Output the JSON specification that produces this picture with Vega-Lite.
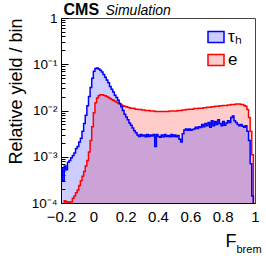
{
"$schema": "https://vega.github.io/schema/vega-lite/v6.json",
"width": 194, "height": 185,
"autosize": {"type": "none"},
"padding": {"left": 61, "top": 18, "right": 11, "bottom": 55},
"background": "white",
"config": {
  "view": {"stroke": "#444", "strokeWidth": 1},
  "font": "Liberation Sans",
  "axis": {"labelFont": "Liberation Sans", "titleFont": "Liberation Sans", "titleFontWeight": "normal", "titleColor": "black", "labelColor": "black", "grid": false}
},
"data": {"values": [
{"s":"τₕ","x":-0.20,"y":0.000562},{"s":"τₕ","x":-0.19,"y":0.000302},{"s":"τₕ","x":-0.18,"y":0.000631},{"s":"τₕ","x":-0.17,"y":0.000525},{"s":"τₕ","x":-0.16,"y":0.000759},
{"s":"τₕ","x":-0.15,"y":0.000832},{"s":"τₕ","x":-0.14,"y":0.000955},{"s":"τₕ","x":-0.13,"y":0.00107},{"s":"τₕ","x":-0.12,"y":0.00120},{"s":"τₕ","x":-0.11,"y":0.00151},
{"s":"τₕ","x":-0.10,"y":0.00166},{"s":"τₕ","x":-0.09,"y":0.00209},{"s":"τₕ","x":-0.08,"y":0.00251},{"s":"τₕ","x":-0.07,"y":0.00355},{"s":"τₕ","x":-0.06,"y":0.00525},
{"s":"τₕ","x":-0.05,"y":0.00794},{"s":"τₕ","x":-0.04,"y":0.0126},{"s":"τₕ","x":-0.03,"y":0.0200},{"s":"τₕ","x":-0.02,"y":0.0316},{"s":"τₕ","x":-0.01,"y":0.0501},
{"s":"τₕ","x":0.00,"y":0.0708},{"s":"τₕ","x":0.01,"y":0.0813},{"s":"τₕ","x":0.02,"y":0.0832},{"s":"τₕ","x":0.03,"y":0.0794},{"s":"τₕ","x":0.04,"y":0.0741},
{"s":"τₕ","x":0.05,"y":0.0676},{"s":"τₕ","x":0.06,"y":0.0603},{"s":"τₕ","x":0.07,"y":0.0525},{"s":"τₕ","x":0.08,"y":0.0457},{"s":"τₕ","x":0.09,"y":0.0398},
{"s":"τₕ","x":0.10,"y":0.0331},{"s":"τₕ","x":0.11,"y":0.0288},{"s":"τₕ","x":0.12,"y":0.0251},{"s":"τₕ","x":0.13,"y":0.0214},{"s":"τₕ","x":0.14,"y":0.0191},
{"s":"τₕ","x":0.15,"y":0.0166},{"s":"τₕ","x":0.16,"y":0.0141},{"s":"τₕ","x":0.17,"y":0.0120},{"s":"τₕ","x":0.18,"y":0.0100},{"s":"τₕ","x":0.19,"y":0.00832},
{"s":"τₕ","x":0.20,"y":0.00724},{"s":"τₕ","x":0.21,"y":0.00631},{"s":"τₕ","x":0.22,"y":0.00537},{"s":"τₕ","x":0.23,"y":0.00479},{"s":"τₕ","x":0.24,"y":0.00417},
{"s":"τₕ","x":0.25,"y":0.00363},{"s":"τₕ","x":0.26,"y":0.00331},{"s":"τₕ","x":0.27,"y":0.00295},{"s":"τₕ","x":0.28,"y":0.00275},{"s":"τₕ","x":0.29,"y":0.00302},
{"s":"τₕ","x":0.30,"y":0.00282},{"s":"τₕ","x":0.31,"y":0.00295},{"s":"τₕ","x":0.32,"y":0.00269},{"s":"τₕ","x":0.33,"y":0.00302},{"s":"τₕ","x":0.34,"y":0.00275},
{"s":"τₕ","x":0.35,"y":0.00295},{"s":"τₕ","x":0.36,"y":0.00282},{"s":"τₕ","x":0.37,"y":0.00302},{"s":"τₕ","x":0.38,"y":0.00166},{"s":"τₕ","x":0.39,"y":0.00302},
{"s":"τₕ","x":0.40,"y":0.00275},{"s":"τₕ","x":0.41,"y":0.00263},{"s":"τₕ","x":0.42,"y":0.00295},{"s":"τₕ","x":0.43,"y":0.00269},{"s":"τₕ","x":0.44,"y":0.00302},
{"s":"τₕ","x":0.45,"y":0.00275},{"s":"τₕ","x":0.46,"y":0.00288},{"s":"τₕ","x":0.47,"y":0.00269},{"s":"τₕ","x":0.48,"y":0.00302},{"s":"τₕ","x":0.49,"y":0.00275},
{"s":"τₕ","x":0.50,"y":0.00295},{"s":"τₕ","x":0.51,"y":0.00269},{"s":"τₕ","x":0.52,"y":0.00288},{"s":"τₕ","x":0.53,"y":0.00240},{"s":"τₕ","x":0.54,"y":0.00209},
{"s":"τₕ","x":0.55,"y":0.00316},{"s":"τₕ","x":0.56,"y":0.00380},{"s":"τₕ","x":0.57,"y":0.00398},{"s":"τₕ","x":0.58,"y":0.00372},{"s":"τₕ","x":0.59,"y":0.00398},
{"s":"τₕ","x":0.60,"y":0.00372},{"s":"τₕ","x":0.61,"y":0.00389},{"s":"τₕ","x":0.62,"y":0.00398},{"s":"τₕ","x":0.63,"y":0.00437},{"s":"τₕ","x":0.64,"y":0.00407},
{"s":"τₕ","x":0.65,"y":0.00447},{"s":"τₕ","x":0.66,"y":0.00427},{"s":"τₕ","x":0.67,"y":0.00501},{"s":"τₕ","x":0.68,"y":0.00447},{"s":"τₕ","x":0.69,"y":0.00525},
{"s":"τₕ","x":0.70,"y":0.00468},{"s":"τₕ","x":0.71,"y":0.00550},{"s":"τₕ","x":0.72,"y":0.00437},{"s":"τₕ","x":0.73,"y":0.00603},{"s":"τₕ","x":0.74,"y":0.00468},
{"s":"τₕ","x":0.75,"y":0.00575},{"s":"τₕ","x":0.76,"y":0.00501},{"s":"τₕ","x":0.77,"y":0.00631},{"s":"τₕ","x":0.78,"y":0.00525},{"s":"τₕ","x":0.79,"y":0.00468},
{"s":"τₕ","x":0.80,"y":0.00575},{"s":"τₕ","x":0.81,"y":0.00479},{"s":"τₕ","x":0.82,"y":0.00537},{"s":"τₕ","x":0.83,"y":0.00603},{"s":"τₕ","x":0.84,"y":0.00550},
{"s":"τₕ","x":0.85,"y":0.00708},{"s":"τₕ","x":0.86,"y":0.00759},{"s":"τₕ","x":0.87,"y":0.00603},{"s":"τₕ","x":0.88,"y":0.00550},{"s":"τₕ","x":0.89,"y":0.00501},
{"s":"τₕ","x":0.90,"y":0.00468},{"s":"τₕ","x":0.91,"y":0.00501},{"s":"τₕ","x":0.92,"y":0.00457},{"s":"τₕ","x":0.93,"y":0.00437},{"s":"τₕ","x":0.94,"y":0.00468},
{"s":"τₕ","x":0.95,"y":0.00355},{"s":"τₕ","x":0.96,"y":0.00224},{"s":"τₕ","x":0.97,"y":0.000708},{"s":"τₕ","x":0.98,"y":0.000141},{"s":"τₕ","x":0.99,"y":0.00001},
{"s":"e","x":-0.20,"y":0.00001},{"s":"e","x":-0.19,"y":0.00001},{"s":"e","x":-0.18,"y":0.000112},{"s":"e","x":-0.17,"y":0.0000794},{"s":"e","x":-0.16,"y":0.000107},
{"s":"e","x":-0.15,"y":0.0000891},{"s":"e","x":-0.14,"y":0.000105},{"s":"e","x":-0.13,"y":0.000126},{"s":"e","x":-0.12,"y":0.000141},{"s":"e","x":-0.11,"y":0.000166},
{"s":"e","x":-0.10,"y":0.000191},{"s":"e","x":-0.09,"y":0.000240},{"s":"e","x":-0.08,"y":0.000302},{"s":"e","x":-0.07,"y":0.000380},{"s":"e","x":-0.06,"y":0.000479},
{"s":"e","x":-0.05,"y":0.000631},{"s":"e","x":-0.04,"y":0.000832},{"s":"e","x":-0.03,"y":0.00126},{"s":"e","x":-0.02,"y":0.00224},{"s":"e","x":-0.01,"y":0.00447},
{"s":"e","x":0.00,"y":0.00891},{"s":"e","x":0.01,"y":0.0148},{"s":"e","x":0.02,"y":0.0186},{"s":"e","x":0.03,"y":0.0209},{"s":"e","x":0.04,"y":0.0219},
{"s":"e","x":0.05,"y":0.0219},{"s":"e","x":0.06,"y":0.0214},{"s":"e","x":0.07,"y":0.0209},{"s":"e","x":0.08,"y":0.0200},{"s":"e","x":0.09,"y":0.0191},
{"s":"e","x":0.10,"y":0.0182},{"s":"e","x":0.11,"y":0.0174},{"s":"e","x":0.12,"y":0.0166},{"s":"e","x":0.13,"y":0.0158},{"s":"e","x":0.14,"y":0.0151},
{"s":"e","x":0.15,"y":0.0145},{"s":"e","x":0.16,"y":0.0138},{"s":"e","x":0.17,"y":0.0132},{"s":"e","x":0.18,"y":0.0126},{"s":"e","x":0.19,"y":0.0123},
{"s":"e","x":0.20,"y":0.0120},{"s":"e","x":0.21,"y":0.0117},{"s":"e","x":0.22,"y":0.0115},{"s":"e","x":0.23,"y":0.0112},{"s":"e","x":0.24,"y":0.0112},
{"s":"e","x":0.25,"y":0.0110},{"s":"e","x":0.26,"y":0.0107},{"s":"e","x":0.27,"y":0.0107},{"s":"e","x":0.28,"y":0.0105},{"s":"e","x":0.29,"y":0.0105},
{"s":"e","x":0.30,"y":0.0102},{"s":"e","x":0.31,"y":0.0102},{"s":"e","x":0.32,"y":0.0100},{"s":"e","x":0.33,"y":0.0100},{"s":"e","x":0.34,"y":0.0100},
{"s":"e","x":0.35,"y":0.00977},{"s":"e","x":0.36,"y":0.00977},{"s":"e","x":0.37,"y":0.00977},{"s":"e","x":0.38,"y":0.00955},{"s":"e","x":0.39,"y":0.00955},
{"s":"e","x":0.40,"y":0.00955},{"s":"e","x":0.41,"y":0.00955},{"s":"e","x":0.42,"y":0.00955},{"s":"e","x":0.43,"y":0.00955},{"s":"e","x":0.44,"y":0.00955},
{"s":"e","x":0.45,"y":0.00955},{"s":"e","x":0.46,"y":0.00955},{"s":"e","x":0.47,"y":0.00977},{"s":"e","x":0.48,"y":0.00977},{"s":"e","x":0.49,"y":0.00977},
{"s":"e","x":0.50,"y":0.00977},{"s":"e","x":0.51,"y":0.00977},{"s":"e","x":0.52,"y":0.0100},{"s":"e","x":0.53,"y":0.0100},{"s":"e","x":0.54,"y":0.0100},
{"s":"e","x":0.55,"y":0.0102},{"s":"e","x":0.56,"y":0.0102},{"s":"e","x":0.57,"y":0.0105},{"s":"e","x":0.58,"y":0.0105},{"s":"e","x":0.59,"y":0.0107},
{"s":"e","x":0.60,"y":0.0107},{"s":"e","x":0.61,"y":0.0107},{"s":"e","x":0.62,"y":0.0110},{"s":"e","x":0.63,"y":0.0110},{"s":"e","x":0.64,"y":0.0110},
{"s":"e","x":0.65,"y":0.0112},{"s":"e","x":0.66,"y":0.0112},{"s":"e","x":0.67,"y":0.0112},{"s":"e","x":0.68,"y":0.0115},{"s":"e","x":0.69,"y":0.0115},
{"s":"e","x":0.70,"y":0.0117},{"s":"e","x":0.71,"y":0.0117},{"s":"e","x":0.72,"y":0.0117},{"s":"e","x":0.73,"y":0.0120},{"s":"e","x":0.74,"y":0.0120},
{"s":"e","x":0.75,"y":0.0123},{"s":"e","x":0.76,"y":0.0123},{"s":"e","x":0.77,"y":0.0123},{"s":"e","x":0.78,"y":0.0126},{"s":"e","x":0.79,"y":0.0126},
{"s":"e","x":0.80,"y":0.0129},{"s":"e","x":0.81,"y":0.0129},{"s":"e","x":0.82,"y":0.0129},{"s":"e","x":0.83,"y":0.0132},{"s":"e","x":0.84,"y":0.0132},
{"s":"e","x":0.85,"y":0.0135},{"s":"e","x":0.86,"y":0.0135},{"s":"e","x":0.87,"y":0.0135},{"s":"e","x":0.88,"y":0.0138},{"s":"e","x":0.89,"y":0.0138},
{"s":"e","x":0.90,"y":0.0138},{"s":"e","x":0.91,"y":0.0135},{"s":"e","x":0.92,"y":0.0135},{"s":"e","x":0.93,"y":0.0129},{"s":"e","x":0.94,"y":0.0123},
{"s":"e","x":0.95,"y":0.0105},{"s":"e","x":0.96,"y":0.00708},{"s":"e","x":0.97,"y":0.00355},{"s":"e","x":0.98,"y":0.00110},{"s":"e","x":0.99,"y":0.00001}
]},
"resolve": {"axis": {"x": "independent", "y": "independent"}},
"layer": [
{
  "transform": [{"filter": "datum.s == 'e'"}],
  "mark": {"type": "area", "interpolate": "step-after", "fillOpacity": 0.2, "clip": true},
  "encoding": {
    "x": {"field": "x", "type": "quantitative", "scale": {"domain": [-0.2, 1], "nice": false, "zero": false},
      "axis": {"orient": "bottom", "values": [-0.2, 0, 0.2, 0.4, 0.6, 0.8, 1], "format": "~g", "ticks": false, "domainColor": "black", "labelFontSize": 15, "labelPadding": 6, "labelFlush": false, "labelOverlap": false,
        "title": "F", "titleFontSize": 18, "titleX": 164, "titleY": 43, "titleAlign": "left", "titleBaseline": "alphabetic"}},
    "y": {"field": "y", "type": "quantitative", "stack": null, "scale": {"type": "log", "domain": [0.0001, 1], "nice": false},
      "axis": {"orient": "left", "values": [0.0001, 0.001, 0.01, 0.1, 1], "tickSize": -7, "tickColor": "black", "domainColor": "black", "labelPadding": 11, "labelFontSize": 13.5, "labelFlush": false, "labelOverlap": false, "labelBound": false,
        "labelExpr": "datum.value > 0.5 ? '1' : '10' + ['', '⁻¹', '⁻²', '⁻³', '⁻⁴'][round(-log(datum.value) / LN10)]",
        "title": "Relative yield / bin", "titleFontSize": 18, "titleAngle": -90, "titleX": -40, "titleY": 0, "titleAlign": "right", "titleBaseline": "alphabetic"}},
    "y2": {"datum": 0.0001},
    "color": {"field": "s", "type": "nominal", "scale": {"domain": ["τₕ", "e"], "range": ["#0000ff", "#ff0000"]},
      "legend": {"orient": "none", "legendX": 146, "legendY": 10, "title": null, "padding": 0, "symbolType": "M-1,-0.69H1V0.69H-1Z", "symbolSize": 256, "labelFontSize": 17, "labelFont": "Liberation Sans", "labelColor": "black", "labelOffset": 3, "rowPadding": 5,
        "encode": {"symbols": {"update": {"fill": {"scale": "color", "field": "value"}, "stroke": {"scale": "color", "field": "value"}, "fillOpacity": {"value": 0.2}, "strokeWidth": {"value": 1.5}, "opacity": {"value": 1}}}}}}
  }
},
{
  "transform": [{"filter": "datum.s == 'τₕ'"}],
  "mark": {"type": "area", "interpolate": "step-after", "fillOpacity": 0.2, "clip": true},
  "encoding": {
    "x": {"field": "x", "type": "quantitative",
      "axis": {"orient": "top", "domain": false, "ticks": false, "labels": false, "title": "CMS", "titleFontSize": 16, "titleFontWeight": "bold", "titleX": 2, "titleY": -4, "titleAlign": "left", "titleBaseline": "alphabetic"}},
    "y": {"field": "y", "type": "quantitative", "stack": null,
      "axis": {"orient": "left", "values": [0.0002,0.0003,0.0004,0.0005,0.0006,0.0007,0.0008,0.0009,0.002,0.003,0.004,0.005,0.006,0.007,0.008,0.009,0.02,0.03,0.04,0.05,0.06,0.07,0.08,0.09,0.2,0.3,0.4,0.5,0.6,0.7,0.8,0.9], "tickSize": -4, "tickColor": "black", "labels": false, "domain": false, "title": null}},
    "y2": {"datum": 0.0001},
    "color": {"field": "s", "type": "nominal",
      "legend": {"orient": "none", "legendX": 146, "legendY": 10, "title": null, "padding": 0, "symbolType": "M-1,-0.69H1V0.69H-1Z", "symbolSize": 256, "labelFontSize": 17, "labelFont": "Liberation Sans", "labelColor": "black", "labelOffset": 3, "rowPadding": 5,
        "encode": {"symbols": {"update": {"fill": {"scale": "color", "field": "value"}, "stroke": {"scale": "color", "field": "value"}, "fillOpacity": {"value": 0.2}, "strokeWidth": {"value": 1.5}, "opacity": {"value": 1}}}}}}
  }
},
{
  "transform": [{"filter": "datum.s == 'e'"}],
  "mark": {"type": "line", "interpolate": "step-after", "strokeWidth": 1.5, "clip": true},
  "encoding": {
    "x": {"field": "x", "type": "quantitative",
      "axis": {"orient": "top", "domain": false, "ticks": false, "labels": false, "title": "Simulation", "titleFontSize": 14, "titleFontStyle": "italic", "titleX": 44, "titleY": -4, "titleAlign": "left", "titleBaseline": "alphabetic"}},
    "y": {"field": "y", "type": "quantitative", "axis": null},
    "color": {"field": "s", "type": "nominal", "legend": null}
  }
},
{
  "transform": [{"filter": "datum.s == 'τₕ'"}],
  "mark": {"type": "line", "interpolate": "step-after", "strokeWidth": 1.5, "clip": true},
  "encoding": {
    "x": {"field": "x", "type": "quantitative",
      "axis": {"orient": "bottom", "domain": false, "ticks": false, "labels": false, "title": "brem", "titleFontSize": 11, "titleX": 175, "titleY": 49, "titleAlign": "left", "titleBaseline": "alphabetic"}},
    "y": {"field": "y", "type": "quantitative", "axis": null},
    "color": {"field": "s", "type": "nominal", "legend": null}
  }
}
]
}
